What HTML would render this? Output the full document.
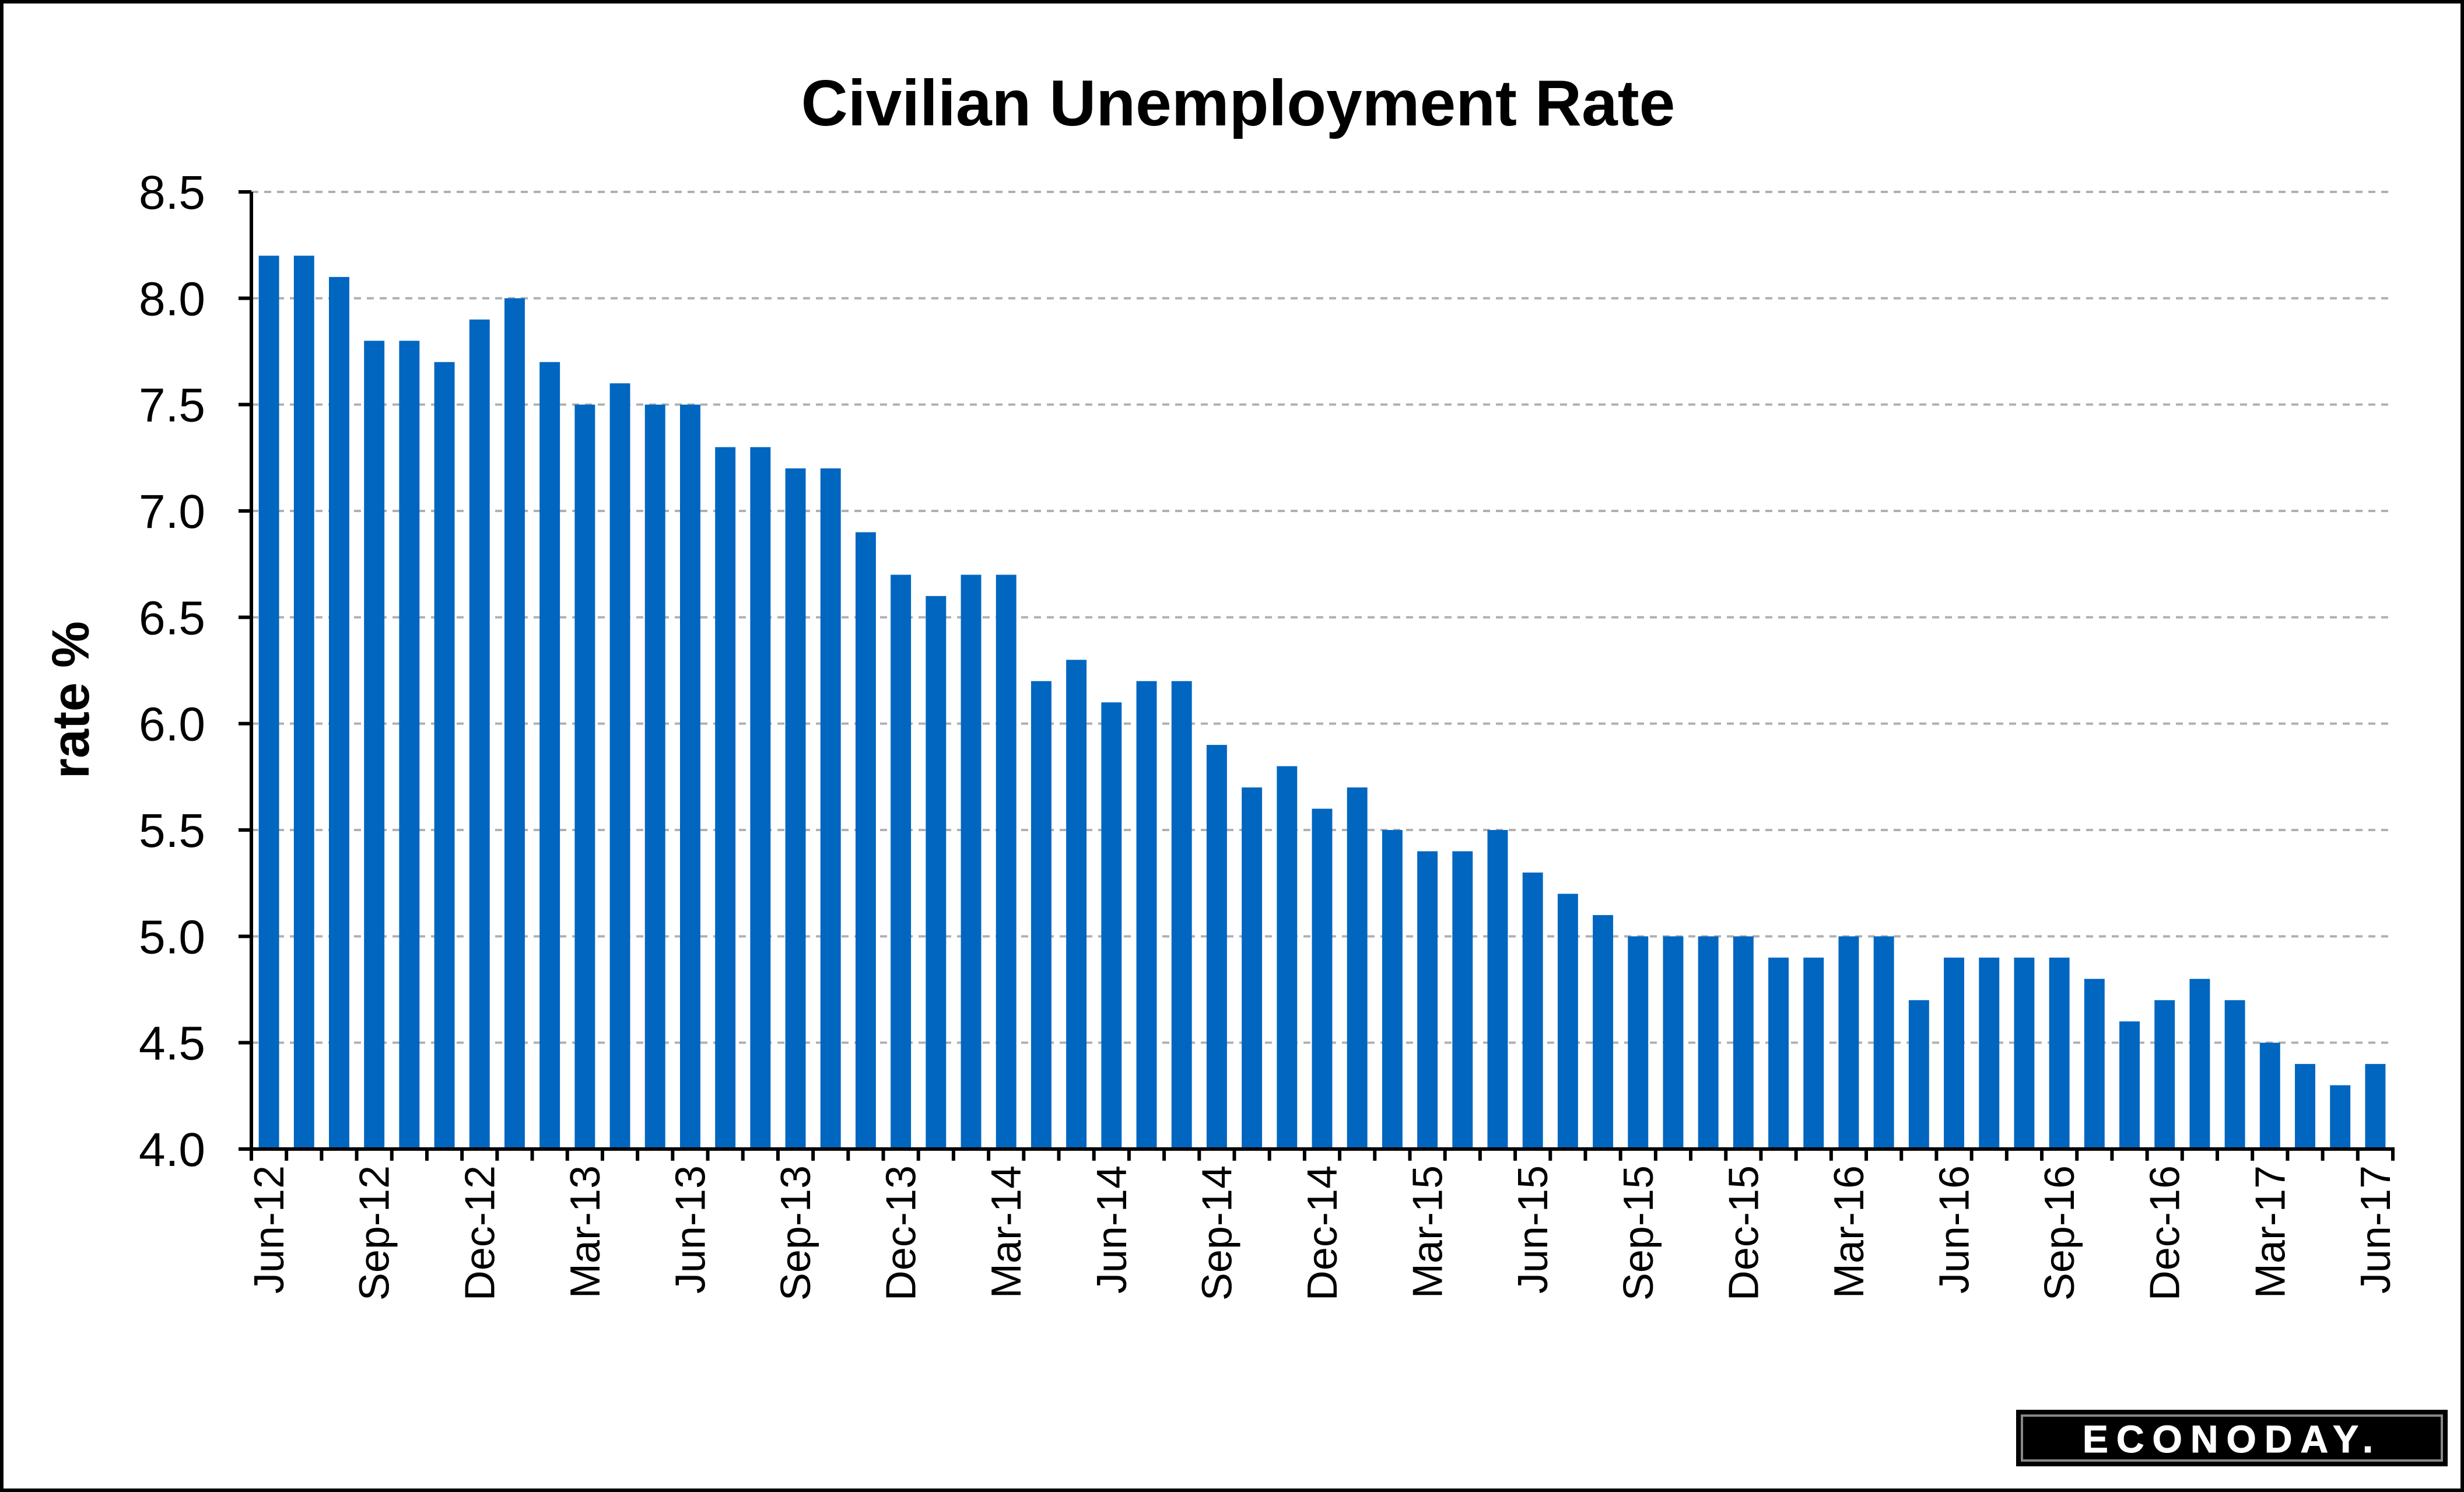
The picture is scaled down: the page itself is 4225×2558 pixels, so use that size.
<!DOCTYPE html>
<html><head><meta charset="utf-8"><style>
html,body{margin:0;padding:0;background:#fff}
svg{display:block}
text{font-family:"Liberation Sans",Arial,sans-serif}
</style></head><body>
<svg id="chart" width="4225" height="2558" viewBox="0 0 4225 2558" xmlns="http://www.w3.org/2000/svg">
<rect x="3" y="3" width="4219" height="2552" fill="#fff" stroke="#000" stroke-width="6"/>
<text x="2123" y="215" text-anchor="middle" font-size="111" font-weight="bold" fill="#000">Civilian Unemployment Rate</text>
<text transform="translate(152,1200) rotate(-90)" text-anchor="middle" font-size="90" font-weight="bold">rate %</text>
<g id="grid"></g>
<g id="bars"></g>
<g id="axes"></g>
<g>
<rect x="3457" y="2417" width="740" height="97" fill="#000"/>
<rect x="3467" y="2427" width="720" height="77" fill="none" stroke="#888" stroke-width="4"/>
<text x="3827" y="2490" text-anchor="middle" font-size="66" font-weight="bold" letter-spacing="14" fill="#fff" stroke="#fff" stroke-width="1">ECONODAY.</text>
</g>
</svg>
<script>
const categories = ["Jun-12","Jul-12","Aug-12","Sep-12","Oct-12","Nov-12","Dec-12","Jan-13","Feb-13","Mar-13","Apr-13","May-13","Jun-13","Jul-13","Aug-13","Sep-13","Oct-13","Nov-13","Dec-13","Jan-14","Feb-14","Mar-14","Apr-14","May-14","Jun-14","Jul-14","Aug-14","Sep-14","Oct-14","Nov-14","Dec-14","Jan-15","Feb-15","Mar-15","Apr-15","May-15","Jun-15","Jul-15","Aug-15","Sep-15","Oct-15","Nov-15","Dec-15","Jan-16","Feb-16","Mar-16","Apr-16","May-16","Jun-16","Jul-16","Aug-16","Sep-16","Oct-16","Nov-16","Dec-16","Jan-17","Feb-17","Mar-17","Apr-17","May-17","Jun-17"];
const rates = [8.2,8.2,8.1,7.8,7.8,7.7,7.9,8.0,7.7,7.5,7.6,7.5,7.5,7.3,7.3,7.2,7.2,6.9,6.7,6.6,6.7,6.7,6.2,6.3,6.1,6.2,6.2,5.9,5.7,5.8,5.6,5.7,5.5,5.4,5.4,5.5,5.3,5.2,5.1,5.0,5.0,5.0,5.0,4.9,4.9,5.0,5.0,4.7,4.9,4.9,4.9,4.9,4.8,4.6,4.7,4.8,4.7,4.5,4.4,4.3,4.4];
const yTicks = [4.0,4.5,5.0,5.5,6.0,6.5,7.0,7.5,8.0,8.5];
const labelEvery = 3;

const NS="http://www.w3.org/2000/svg";
const X0=431,X1=4103,Y0=1970,Y1=329,YMIN=4.0,YMAX=8.5;
const band=(X1-X0)/categories.length;
function xs(i){return X0+band*i;}
function ys(v){return Y0-(v-YMIN)/(YMAX-YMIN)*(Y0-Y1);}
function mk(tag,attrs,parent){const e=document.createElementNS(NS,tag);for(const k in attrs)e.setAttribute(k,attrs[k]);parent.appendChild(e);return e;}
const grid=document.getElementById('grid'),bars=document.getElementById('bars'),axes=document.getElementById('axes');
yTicks.forEach(v=>{
  const y=ys(v);
  if(v>YMIN){const g=mk('line',{x1:X0,x2:X1,y1:y,y2:y,stroke:'#b0b0b0','stroke-width':4,'stroke-dasharray':'12 10'},grid);
  
  }
  const t=mk('line',{x1:X0-22,x2:X0,y1:y,y2:y,stroke:'#000','stroke-width':6},axes);
  
  
  const l=mk('text',{x:352,y:y+29,'text-anchor':'end','font-size':82,fill:'#000'},axes);
  l.textContent=v.toFixed(1);
  
  
});
rates.forEach((v,i)=>{
  const w=band*0.58;
  const r=mk('rect',{x:xs(i)+(band-w)/2,y:ys(v),width:w,height:Y0-ys(v),fill:'#0066c0'},bars);
  
  
});
const ax=mk('line',{x1:X0,x2:X0,y1:Y1,y2:Y0+3,stroke:'#000','stroke-width':6},axes);


const bx=mk('line',{x1:X0-3,x2:X1+3,y1:Y0,y2:Y0,stroke:'#000','stroke-width':6},axes);


for(let i=0;i<=categories.length;i++){
  const t=mk('line',{x1:xs(i),x2:xs(i),y1:Y0,y2:Y0+20,stroke:'#000','stroke-width':6},axes);
  
  
}
categories.forEach((c,i)=>{
  if(i%labelEvery!==0)return;
  const cx=xs(i)+band/2+25;
  const l=mk('text',{transform:`translate(${cx},1998) rotate(-90)`,'text-anchor':'end','font-size':72,fill:'#000'},axes);
  l.textContent=c;
  
  
});
</script>
</body></html>
